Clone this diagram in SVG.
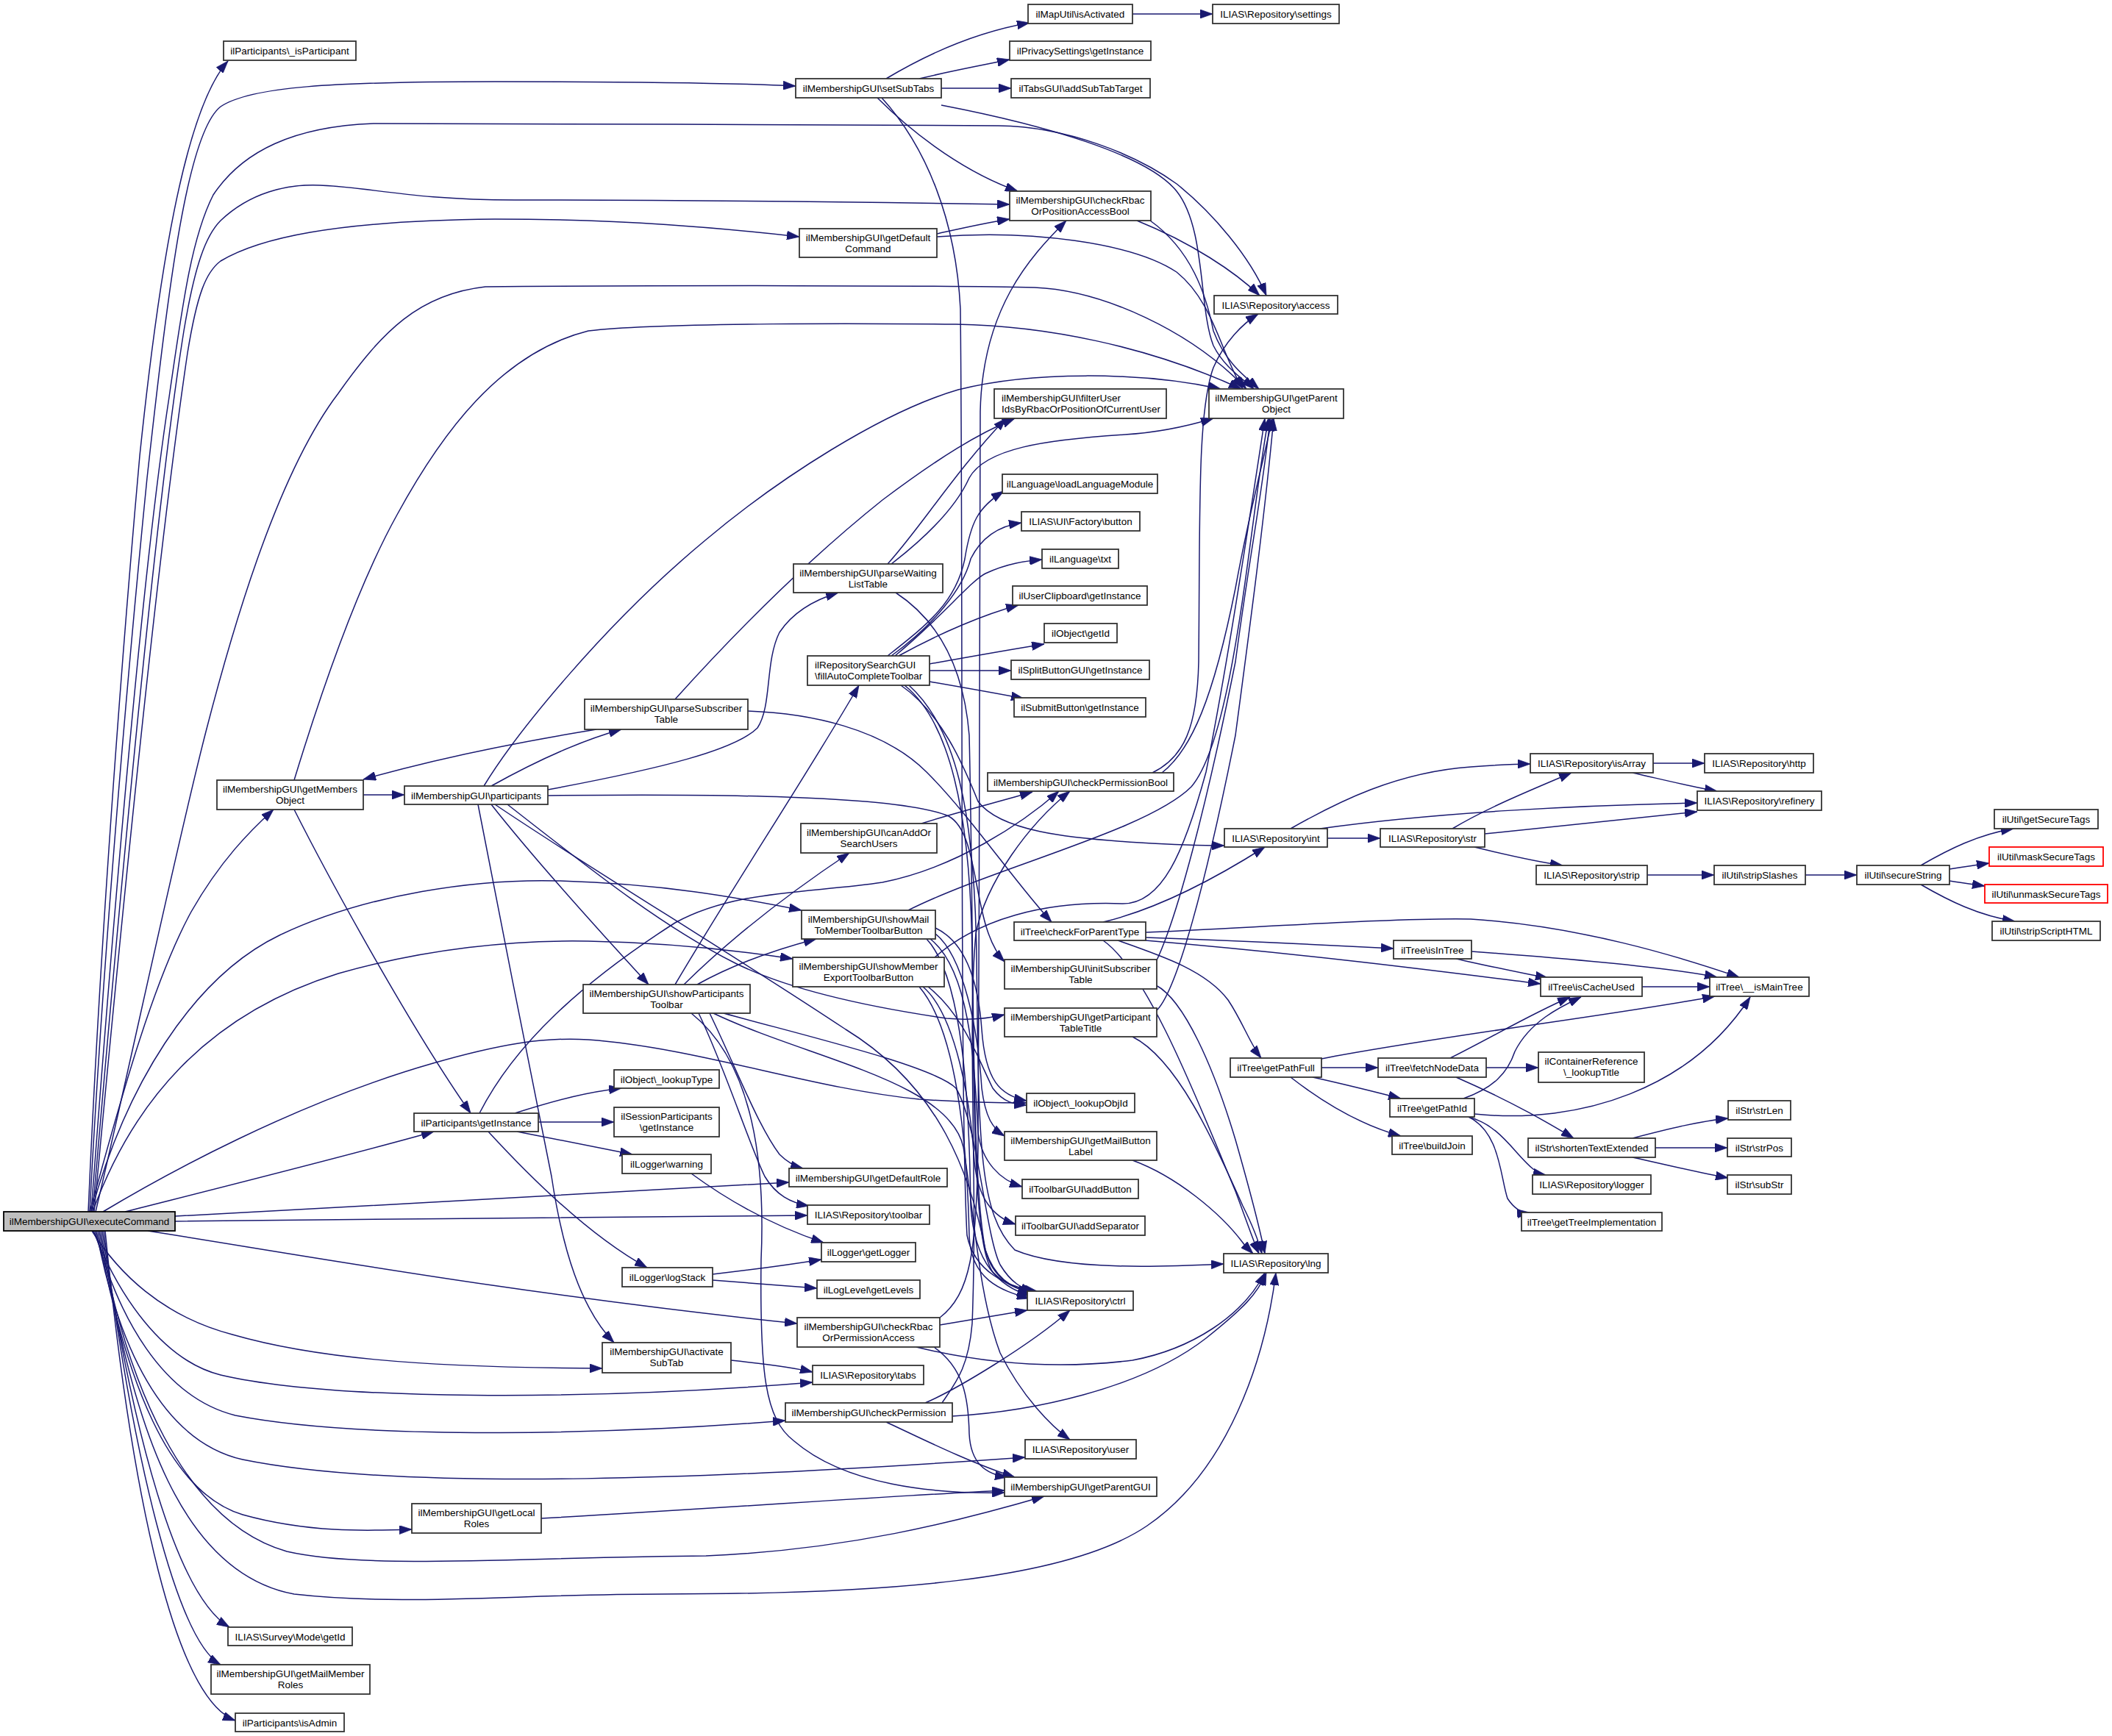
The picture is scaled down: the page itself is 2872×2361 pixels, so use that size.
<svg xmlns="http://www.w3.org/2000/svg" width="2872" height="2361" viewBox="0 0 2872 2361">
<defs>
<marker id="arr" viewBox="0 0 10 10" refX="10" refY="5" markerWidth="17" markerHeight="12" markerUnits="userSpaceOnUse" orient="auto" preserveAspectRatio="none"><path d="M0,0 L10,5 L0,10 z" fill="#191970" stroke="#191970" stroke-width="0.5"/></marker>
</defs>
<style>
.e{fill:none;stroke:#191970;stroke-width:1.5;marker-end:url(#arr)}
.n rect{fill:#ffffff;stroke:#333333;stroke-width:1.8}
.n.r rect{stroke:#ff0000}
.n.s rect{fill:#bfbfbf;stroke:#000000}
.n text{font-family:"Liberation Sans",Arial,Helvetica,sans-serif;font-size:13.5px;fill:#000000;text-anchor:middle}
.n text.l{text-anchor:start}
</style>
<rect x="0" y="0" width="2872" height="2361" fill="#ffffff"/>
<g id="edges">
<path class="e" d="M120,1648 C135,1300 165,900 190,620 C215,380 250,150 310,83"/>
<path class="e" d="M122,1648 C140,1300 175,900 200,650 C230,380 255,180 300,145 C340,118 450,111 673,111 C850,111 980,112 1082,117"/>
<path class="e" d="M124,1648 C150,1300 190,800 230,540 C250,400 262,320 290,265 C330,205 400,172 508,168 C700,168 1200,170 1358,171 C1450,172 1545,210 1600,250 C1650,290 1700,350 1722,402"/>
<path class="e" d="M126,1648 C160,1250 210,700 250,450 C265,360 280,320 300,300 C340,262 390,250 435,252 C500,254 560,272 700,272 C1000,272 1250,276 1373,278"/>
<path class="e" d="M128,1648 C165,1250 215,750 255,480 C268,400 280,370 300,355 C350,325 450,300 673,298 C850,298 980,310 1087,322"/>
<path class="e" d="M130,1648 C170,1480 240,1150 280,995 C320,840 380,640 460,535 C520,450 570,400 660,390 C900,388 1300,388 1407,391 C1500,395 1620,450 1695,529"/>
<path class="e" d="M122,1648 C150,1550 200,1350 260,1240 C300,1170 340,1130 372,1101"/>
<path class="e" d="M124,1648 C170,1480 260,1330 380,1272 C500,1215 650,1195 760,1198 C900,1202 1000,1220 1090,1238"/>
<path class="e" d="M126,1648 C180,1500 280,1380 460,1324 C580,1290 700,1278 800,1280 C900,1282 1000,1292 1078,1304"/>
<path class="e" d="M140,1648 C220,1600 400,1500 589,1446 C680,1420 740,1410 800,1414 C950,1425 1100,1480 1250,1495 C1320,1500 1360,1500 1396,1500"/>
<path class="e" d="M170,1648 C300,1615 480,1570 590,1539"/>
<path class="e" d="M238,1654 C500,1640 900,1618 1073,1608"/>
<path class="e" d="M238,1661 C500,1658 900,1655 1098,1653"/>
<path class="e" d="M201,1674 C400,1705 700,1760 1084,1800"/>
<path class="e" d="M125,1674 C160,1730 220,1790 316,1815 C420,1845 560,1860 819,1861"/>
<path class="e" d="M127,1674 C160,1760 220,1850 300,1870 C450,1905 800,1905 1105,1880"/>
<path class="e" d="M129,1674 C160,1790 220,1900 320,1925 C500,1960 850,1950 1068,1932"/>
<path class="e" d="M131,1674 C160,1830 220,1960 330,1985 C550,2030 1000,2010 1394,1982"/>
<path class="e" d="M133,1674 C170,1880 230,2030 330,2060 C420,2085 500,2082 560,2080"/>
<path class="e" d="M135,1674 C170,1880 250,2070 390,2110 C500,2135 700,2118 960,2116 C1150,2108 1300,2070 1420,2035"/>
<path class="e" d="M137,1674 C180,1950 250,2140 400,2168 C550,2185 700,2168 900,2168 C1200,2168 1450,2150 1560,2075 C1670,2000 1720,1850 1735,1731"/>
<path class="e" d="M139,1674 C180,1950 240,2170 312,2213"/>
<path class="e" d="M141,1674 C180,1980 240,2230 300,2264"/>
<path class="e" d="M143,1674 C180,2050 240,2310 320,2340"/>
<path class="e" d="M1205,107 C1250,80 1320,45 1400,31"/>
<path class="e" d="M1250,107 C1300,95 1350,86 1373,81"/>
<path class="e" d="M1280,120 L1375,120"/>
<path class="e" d="M1193,133 C1230,170 1300,230 1384,260"/>
<path class="e" d="M1199,133 C1260,200 1300,300 1306,420 C1310,800 1305,1500 1315,1680 C1325,1730 1370,1750 1410,1756"/>
<path class="e" d="M1280,143 C1420,170 1560,210 1600,260 C1640,310 1630,420 1650,470 C1665,500 1690,515 1705,529"/>
<path class="e" d="M1540,19 L1649,19"/>
<path class="e" d="M1274,318 C1310,310 1340,303 1373,298"/>
<path class="e" d="M1274,322 C1400,312 1540,330 1600,370 C1650,410 1660,480 1690,529"/>
<path class="e" d="M1546,300 C1620,330 1680,370 1713,402"/>
<path class="e" d="M1564,300 C1620,340 1640,400 1650,450 C1665,490 1690,510 1712,529"/>
<path class="e" d="M400,1061 C440,930 490,790 540,700 C600,590 680,480 800,450 C900,438 1200,440 1300,441 C1420,443 1560,470 1688,529"/>
<path class="e" d="M494,1081 L550,1081"/>
<path class="e" d="M400,1101 C450,1200 560,1400 640,1514"/>
<path class="e" d="M658,1069 C700,1000 820,850 960,734 C1060,650 1200,560 1303,530 C1400,505 1550,505 1660,529"/>
<path class="e" d="M668,1069 C720,1040 780,1010 845,992"/>
<path class="e" d="M745,1074 C900,1045 1000,1020 1030,990 C1050,960 1040,900 1060,860 C1080,830 1110,815 1140,806"/>
<path class="e" d="M668,1094 C720,1160 800,1250 882,1339"/>
<path class="e" d="M650,1094 C680,1250 720,1450 750,1600 C765,1700 790,1780 835,1826"/>
<path class="e" d="M745,1082 C950,1080 1220,1080 1290,1110 C1335,1135 1320,1260 1366,1308"/>
<path class="e" d="M690,1094 C800,1180 900,1260 1000,1310 C1060,1340 1150,1365 1287,1385 C1320,1388 1345,1385 1366,1380"/>
<path class="e" d="M673,1094 C800,1180 1000,1300 1150,1400 C1280,1480 1320,1600 1340,1700 C1350,1740 1380,1755 1410,1758"/>
<path class="e" d="M811,992 C700,1010 600,1030 494,1060"/>
<path class="e" d="M918,951 C1000,860 1100,760 1200,680 C1280,620 1330,590 1380,569"/>
<path class="e" d="M1017,967 C1100,970 1200,990 1260,1050 C1320,1110 1380,1200 1430,1254"/>
<path class="e" d="M1207,767 C1250,720 1300,640 1368,569"/>
<path class="e" d="M1212,767 C1260,730 1300,690 1318,650 C1340,610 1420,598 1530,591 C1580,588 1620,578 1650,569"/>
<path class="e" d="M1218,806 C1270,840 1310,900 1318,1000 C1325,1300 1320,1600 1340,1700 C1355,1745 1385,1755 1405,1757"/>
<path class="e" d="M1207,892 C1260,850 1300,820 1312,760 C1320,710 1330,690 1365,668"/>
<path class="e" d="M1212,892 C1270,850 1310,800 1320,760 C1335,730 1360,715 1389,711"/>
<path class="e" d="M1217,892 C1280,840 1320,790 1340,780 C1370,766 1395,763 1417,761"/>
<path class="e" d="M1222,892 C1280,860 1340,835 1385,823"/>
<path class="e" d="M1264,903 C1320,893 1370,884 1420,876"/>
<path class="e" d="M1264,912 L1375,912"/>
<path class="e" d="M1264,927 C1310,935 1350,942 1392,950"/>
<path class="e" d="M1225,932 C1280,970 1310,1040 1330,1090 C1360,1130 1450,1140 1550,1146 C1600,1149 1640,1150 1665,1150"/>
<path class="e" d="M1230,932 C1290,980 1320,1100 1322,1300 C1324,1600 1330,1700 1350,1730 C1370,1750 1390,1755 1402,1757"/>
<path class="e" d="M1236,932 C1300,990 1325,1100 1328,1300 C1331,1550 1330,1650 1380,1700 C1450,1730 1600,1722 1664,1719"/>
<path class="e" d="M918,1339 C1000,1200 1100,1050 1168,932"/>
<path class="e" d="M930,1339 C1000,1270 1080,1210 1155,1160"/>
<path class="e" d="M948,1339 C1000,1310 1060,1290 1110,1277"/>
<path class="e" d="M965,1378 C1000,1450 1030,1530 1060,1570 C1070,1580 1080,1586 1092,1589"/>
<path class="e" d="M950,1378 C985,1450 1020,1560 1040,1600 C1055,1625 1075,1636 1100,1640"/>
<path class="e" d="M940,1378 C1030,1450 1040,1600 1035,1713 C1033,1866 1040,1930 1080,1960 C1150,2020 1270,2032 1366,2030"/>
<path class="e" d="M984,1378 C1100,1410 1270,1450 1300,1480 C1330,1530 1340,1680 1360,1720 C1375,1745 1390,1752 1405,1757"/>
<path class="e" d="M970,1378 C1100,1440 1290,1470 1310,1560 C1325,1650 1330,1760 1360,1840 C1390,1900 1430,1940 1455,1958"/>
<path class="e" d="M1235,1238 C1350,1180 1560,1130 1620,1070 C1680,1000 1700,700 1725,569"/>
<path class="e" d="M1272,1262 C1310,1280 1330,1330 1335,1400 C1340,1470 1360,1490 1396,1497"/>
<path class="e" d="M1272,1270 C1310,1300 1330,1400 1335,1480 C1340,1520 1350,1535 1366,1545"/>
<path class="e" d="M1265,1277 C1320,1320 1325,1450 1330,1540 C1335,1580 1360,1605 1390,1614"/>
<path class="e" d="M1260,1277 C1310,1330 1318,1500 1320,1640 C1325,1720 1360,1750 1400,1762"/>
<path class="e" d="M1271,1302 C1330,1250 1420,1225 1526,1229 C1580,1230 1610,1160 1640,1050 C1670,900 1700,700 1720,569"/>
<path class="e" d="M1262,1342 C1310,1380 1330,1440 1350,1480 C1365,1500 1380,1502 1396,1503"/>
<path class="e" d="M1255,1342 C1300,1380 1320,1500 1325,1580 C1330,1630 1350,1655 1381,1665"/>
<path class="e" d="M1250,1342 C1300,1400 1315,1550 1318,1680 C1320,1740 1360,1755 1400,1766"/>
<path class="e" d="M1567,1051 C1610,1030 1628,990 1630,900 C1632,700 1628,560 1650,500 C1665,465 1690,440 1711,427"/>
<path class="e" d="M1580,1051 C1620,1020 1650,950 1680,800 C1700,690 1720,620 1730,569"/>
<path class="e" d="M1253,1120 C1300,1105 1360,1090 1404,1077"/>
<path class="e" d="M1281,1908 C1300,1880 1317,1860 1322,1800 C1330,1600 1315,1400 1327,1270 C1340,1200 1400,1120 1455,1076"/>
<path class="e" d="M1258,1908 C1300,1890 1400,1830 1455,1782"/>
<path class="e" d="M1295,1926 C1400,1920 1550,1890 1640,1820 C1690,1780 1710,1760 1722,1731"/>
<path class="e" d="M1205,1934 C1250,1955 1320,1990 1380,2009"/>
<path class="e" d="M1278,1802 C1320,1795 1360,1788 1397,1782"/>
<path class="e" d="M1278,1792 C1320,1760 1328,1700 1330,1560 C1333,1200 1330,700 1333,560 C1336,420 1400,350 1450,300"/>
<path class="e" d="M1246,1832 C1320,1850 1420,1865 1540,1850 C1620,1835 1690,1790 1720,1731"/>
<path class="e" d="M1270,1832 C1310,1860 1317,1900 1318,1950 C1320,1990 1340,2005 1370,2009"/>
<path class="e" d="M994,1850 C1040,1855 1080,1860 1105,1866"/>
<path class="e" d="M700,1514 C760,1495 800,1485 845,1480"/>
<path class="e" d="M732,1526 L835,1526"/>
<path class="e" d="M703,1539 C760,1550 820,1562 860,1570"/>
<path class="e" d="M664,1539 C720,1600 800,1680 880,1724"/>
<path class="e" d="M652,1514 C700,1420 790,1337 918,1255 C1000,1210 1100,1215 1200,1200 C1300,1180 1390,1120 1440,1076"/>
<path class="e" d="M940,1596 C1000,1640 1060,1670 1120,1690"/>
<path class="e" d="M969,1733 C1030,1726 1080,1719 1117,1713"/>
<path class="e" d="M969,1741 C1030,1746 1080,1750 1111,1752"/>
<path class="e" d="M736,2065 C1000,2050 1200,2035 1366,2027"/>
<path class="e" d="M1572,1308 C1600,1250 1640,1100 1680,900 C1700,750 1720,650 1727,569"/>
<path class="e" d="M1572,1340 C1610,1360 1650,1450 1680,1550 C1700,1620 1715,1680 1720,1705"/>
<path class="e" d="M1572,1375 C1600,1350 1640,1200 1680,1000 C1700,850 1720,700 1732,569"/>
<path class="e" d="M1540,1410 C1600,1440 1650,1550 1690,1640 C1705,1670 1712,1690 1716,1705"/>
<path class="e" d="M1540,1578 C1600,1600 1660,1650 1690,1690 C1695,1697 1700,1701 1704,1705"/>
<path class="e" d="M1500,1279 C1560,1320 1630,1500 1680,1620 C1695,1660 1705,1690 1712,1705"/>
<path class="e" d="M1500,1254 C1580,1235 1660,1190 1720,1152"/>
<path class="e" d="M1558,1275 C1700,1280 1800,1285 1895,1290"/>
<path class="e" d="M1558,1279 C1800,1300 1950,1320 2095,1338"/>
<path class="e" d="M1558,1268 C1700,1262 1900,1248 2000,1250 C2150,1260 2280,1300 2365,1329"/>
<path class="e" d="M1520,1279 C1580,1300 1640,1320 1670,1360 C1690,1390 1700,1420 1715,1439"/>
<path class="e" d="M1805,1140 L1877,1140"/>
<path class="e" d="M1755,1127 C1820,1090 1900,1050 2000,1043 C2040,1040 2060,1039 2081,1039"/>
<path class="e" d="M1795,1127 C1950,1105 2150,1095 2308,1092"/>
<path class="e" d="M1975,1127 C2020,1100 2080,1075 2137,1051"/>
<path class="e" d="M2019,1134 C2150,1120 2250,1110 2308,1104"/>
<path class="e" d="M2005,1152 C2050,1163 2090,1172 2125,1177"/>
<path class="e" d="M2248,1038 L2318,1038"/>
<path class="e" d="M2220,1051 C2260,1060 2300,1070 2335,1076"/>
<path class="e" d="M2240,1190 L2331,1190"/>
<path class="e" d="M2455,1190 L2525,1190"/>
<path class="e" d="M2612,1177 C2650,1155 2690,1135 2738,1127"/>
<path class="e" d="M2651,1182 C2670,1179 2690,1176 2705,1174"/>
<path class="e" d="M2651,1198 C2670,1201 2685,1203 2699,1205"/>
<path class="e" d="M2612,1203 C2650,1225 2690,1245 2740,1253"/>
<path class="e" d="M1980,1304 C2030,1315 2070,1324 2105,1330"/>
<path class="e" d="M2001,1294 C2150,1305 2280,1318 2335,1329"/>
<path class="e" d="M2233,1342 L2325,1342"/>
<path class="e" d="M1797,1440 C1950,1410 2200,1380 2332,1355"/>
<path class="e" d="M1797,1452 L1874,1452"/>
<path class="e" d="M1785,1465 C1830,1475 1870,1485 1905,1494"/>
<path class="e" d="M1755,1465 C1800,1500 1850,1530 1905,1545"/>
<path class="e" d="M1972,1439 C2030,1410 2080,1380 2135,1356"/>
<path class="e" d="M2021,1452 L2092,1452"/>
<path class="e" d="M1980,1465 C2060,1500 2110,1530 2140,1548"/>
<path class="e" d="M1990,1494 C2030,1480 2050,1460 2060,1430 C2080,1390 2120,1370 2150,1356"/>
<path class="e" d="M2005,1515 C2150,1530 2300,1480 2380,1356"/>
<path class="e" d="M1997,1519 C2040,1530 2060,1570 2085,1590 C2090,1594 2096,1597 2102,1598"/>
<path class="e" d="M1997,1519 C2040,1540 2040,1600 2050,1630 C2060,1645 2070,1650 2080,1649"/>
<path class="e" d="M2220,1548 C2270,1535 2310,1525 2350,1521"/>
<path class="e" d="M2251,1561 L2349,1561"/>
<path class="e" d="M2220,1574 C2270,1585 2310,1595 2350,1602"/>
</g>
<g id="n_exec" class="n s"><rect x="5" y="1648" width="233" height="26"/><text x="121.5" y="1666">ilMembershipGUI\executeCommand</text></g>
<g id="n_isParticipant" class="n"><rect x="304" y="56" width="180" height="26"/><text x="394" y="74">ilParticipants\_isParticipant</text></g>
<g id="n_setSubTabs" class="n"><rect x="1082" y="107" width="198" height="26"/><text x="1181" y="125">ilMembershipGUI\setSubTabs</text></g>
<g id="n_isActivated" class="n"><rect x="1398" y="6" width="142" height="26"/><text x="1469" y="24">ilMapUtil\isActivated</text></g>
<g id="n_settings" class="n"><rect x="1649" y="6" width="172" height="26"/><text x="1735" y="24">ILIAS\Repository\settings</text></g>
<g id="n_privacy" class="n"><rect x="1373" y="56" width="192" height="26"/><text x="1469" y="74">ilPrivacySettings\getInstance</text></g>
<g id="n_addSubTabTarget" class="n"><rect x="1375" y="107" width="189" height="26"/><text x="1469.5" y="125">ilTabsGUI\addSubTabTarget</text></g>
<g id="n_checkRbacBool" class="n"><rect x="1373" y="260" width="192" height="40"/><text x="1469" y="277">ilMembershipGUI\checkRbac</text><text x="1469" y="292">OrPositionAccessBool</text></g>
<g id="n_getDefaultCommand" class="n"><rect x="1087" y="311" width="187" height="39"/><text x="1180.5" y="328">ilMembershipGUI\getDefault</text><text x="1180.5" y="343">Command</text></g>
<g id="n_access" class="n"><rect x="1651" y="402" width="168" height="25"/><text x="1735" y="419.5">ILIAS\Repository\access</text></g>
<g id="n_getParentObject" class="n"><rect x="1644" y="529" width="183" height="40"/><text x="1735.5" y="546">ilMembershipGUI\getParent</text><text x="1735.5" y="561">Object</text></g>
<g id="n_filterUser" class="n"><rect x="1352" y="529" width="234" height="40"/><text class="l" x="1362" y="546">ilMembershipGUI\filterUser</text><text class="l" x="1362" y="561">IdsByRbacOrPositionOfCurrentUser</text></g>
<g id="n_loadLanguageModule" class="n"><rect x="1363" y="645" width="211" height="26"/><text x="1468.5" y="663">ilLanguage\loadLanguageModule</text></g>
<g id="n_button" class="n"><rect x="1389" y="696" width="161" height="26"/><text x="1469.5" y="714">ILIAS\UI\Factory\button</text></g>
<g id="n_txt" class="n"><rect x="1417" y="747" width="104" height="26"/><text x="1469" y="765">ilLanguage\txt</text></g>
<g id="n_parseWaiting" class="n"><rect x="1079" y="767" width="203" height="39"/><text x="1180.5" y="784">ilMembershipGUI\parseWaiting</text><text x="1180.5" y="799">ListTable</text></g>
<g id="n_clipboard" class="n"><rect x="1377" y="797" width="183" height="26"/><text x="1468.5" y="815">ilUserClipboard\getInstance</text></g>
<g id="n_getId" class="n"><rect x="1420" y="848" width="99" height="26"/><text x="1469.5" y="866">ilObject\getId</text></g>
<g id="n_splitButton" class="n"><rect x="1375" y="898" width="188" height="26"/><text x="1469" y="916">ilSplitButtonGUI\getInstance</text></g>
<g id="n_submitButton" class="n"><rect x="1379" y="949" width="179" height="26"/><text x="1468.5" y="967">ilSubmitButton\getInstance</text></g>
<g id="n_fillAutoComplete" class="n"><rect x="1098" y="892" width="166" height="40"/><text class="l" x="1108" y="909">ilRepositorySearchGUI</text><text class="l" x="1108" y="924">\fillAutoCompleteToolbar</text></g>
<g id="n_checkPermissionBool" class="n"><rect x="1343" y="1051" width="253" height="25"/><text x="1469.5" y="1068.5">ilMembershipGUI\checkPermissionBool</text></g>
<g id="n_canAdd" class="n"><rect x="1089" y="1120" width="185" height="40"/><text x="1181.5" y="1137">ilMembershipGUI\canAddOr</text><text x="1181.5" y="1152">SearchUsers</text></g>
<g id="n_showMail" class="n"><rect x="1090" y="1238" width="182" height="39"/><text x="1181" y="1255">ilMembershipGUI\showMail</text><text x="1181" y="1270">ToMemberToolbarButton</text></g>
<g id="n_checkForParentType" class="n"><rect x="1379" y="1254" width="179" height="25"/><text x="1468.5" y="1271.5">ilTree\checkForParentType</text></g>
<g id="n_showExport" class="n"><rect x="1078" y="1302" width="206" height="40"/><text x="1181" y="1319">ilMembershipGUI\showMember</text><text x="1181" y="1334">ExportToolbarButton</text></g>
<g id="n_initSubscriber" class="n"><rect x="1366" y="1305" width="207" height="40"/><text x="1469.5" y="1322">ilMembershipGUI\initSubscriber</text><text x="1469.5" y="1337">Table</text></g>
<g id="n_participantTableTitle" class="n"><rect x="1366" y="1371" width="207" height="39"/><text x="1469.5" y="1388">ilMembershipGUI\getParticipant</text><text x="1469.5" y="1403">TableTitle</text></g>
<g id="n_lookupObjId" class="n"><rect x="1396" y="1487" width="147" height="26"/><text x="1469.5" y="1505">ilObject\_lookupObjId</text></g>
<g id="n_mailButtonLabel" class="n"><rect x="1366" y="1539" width="207" height="39"/><text x="1469.5" y="1556">ilMembershipGUI\getMailButton</text><text x="1469.5" y="1571">Label</text></g>
<g id="n_int" class="n"><rect x="1665" y="1127" width="140" height="25"/><text x="1735" y="1144.5">ILIAS\Repository\int</text></g>
<g id="n_getPathFull" class="n"><rect x="1673" y="1439" width="124" height="26"/><text x="1735" y="1457">ilTree\getPathFull</text></g>
<g id="n_getDefaultRole" class="n"><rect x="1073" y="1589" width="215" height="25"/><text x="1180.5" y="1606.5">ilMembershipGUI\getDefaultRole</text></g>
<g id="n_toolbar" class="n"><rect x="1098" y="1639" width="166" height="26"/><text x="1181" y="1657">ILIAS\Repository\toolbar</text></g>
<g id="n_getLogger" class="n"><rect x="1117" y="1690" width="128" height="26"/><text x="1181" y="1708">ilLogger\getLogger</text></g>
<g id="n_getLevels" class="n"><rect x="1111" y="1741" width="140" height="25"/><text x="1181" y="1758.5">ilLogLevel\getLevels</text></g>
<g id="n_checkRbacPermAccess" class="n"><rect x="1084" y="1792" width="194" height="40"/><text x="1181" y="1809">ilMembershipGUI\checkRbac</text><text x="1181" y="1824">OrPermissionAccess</text></g>
<g id="n_tabs" class="n"><rect x="1105" y="1857" width="151" height="26"/><text x="1180.5" y="1875">ILIAS\Repository\tabs</text></g>
<g id="n_checkPermission" class="n"><rect x="1068" y="1908" width="227" height="26"/><text x="1181.5" y="1926">ilMembershipGUI\checkPermission</text></g>
<g id="n_addButton" class="n"><rect x="1390" y="1604" width="158" height="26"/><text x="1469" y="1622">ilToolbarGUI\addButton</text></g>
<g id="n_addSeparator" class="n"><rect x="1381" y="1654" width="176" height="26"/><text x="1469" y="1672">ilToolbarGUI\addSeparator</text></g>
<g id="n_lng" class="n"><rect x="1664" y="1705" width="142" height="26"/><text x="1735" y="1723">ILIAS\Repository\lng</text></g>
<g id="n_ctrl" class="n"><rect x="1397" y="1756" width="144" height="26"/><text x="1469" y="1774">ILIAS\Repository\ctrl</text></g>
<g id="n_user" class="n"><rect x="1394" y="1958" width="151" height="26"/><text x="1469.5" y="1976">ILIAS\Repository\user</text></g>
<g id="n_getParentGUI" class="n"><rect x="1366" y="2009" width="207" height="26"/><text x="1469.5" y="2027">ilMembershipGUI\getParentGUI</text></g>
<g id="n_logStack" class="n"><rect x="846" y="1724" width="123" height="26"/><text x="907.5" y="1742">ilLogger\logStack</text></g>
<g id="n_warning" class="n"><rect x="846" y="1570" width="121" height="26"/><text x="906.5" y="1588">ilLogger\warning</text></g>
<g id="n_activateSubTab" class="n"><rect x="819" y="1826" width="175" height="41"/><text x="906.5" y="1843">ilMembershipGUI\activate</text><text x="906.5" y="1858">SubTab</text></g>
<g id="n_getMembersObject" class="n"><rect x="295" y="1061" width="199" height="40"/><text x="394.5" y="1078">ilMembershipGUI\getMembers</text><text x="394.5" y="1093">Object</text></g>
<g id="n_participants" class="n"><rect x="550" y="1069" width="195" height="25"/><text x="647.5" y="1086.5">ilMembershipGUI\participants</text></g>
<g id="n_parseSubscriber" class="n"><rect x="795" y="951" width="222" height="41"/><text x="906" y="968">ilMembershipGUI\parseSubscriber</text><text x="906" y="983">Table</text></g>
<g id="n_showParticipantsToolbar" class="n"><rect x="793" y="1339" width="227" height="39"/><text x="906.5" y="1356">ilMembershipGUI\showParticipants</text><text x="906.5" y="1371">Toolbar</text></g>
<g id="n_lookupType" class="n"><rect x="835" y="1455" width="143" height="25"/><text x="906.5" y="1472.5">ilObject\_lookupType</text></g>
<g id="n_sessionParticipants" class="n"><rect x="835" y="1506" width="143" height="40"/><text x="906.5" y="1523">ilSessionParticipants</text><text x="906.5" y="1538">\getInstance</text></g>
<g id="n_participantsGetInstance" class="n"><rect x="563" y="1514" width="169" height="25"/><text x="647.5" y="1531.5">ilParticipants\getInstance</text></g>
<g id="n_getLocalRoles" class="n"><rect x="560" y="2045" width="176" height="40"/><text x="648" y="2062">ilMembershipGUI\getLocal</text><text x="648" y="2077">Roles</text></g>
<g id="n_surveyGetId" class="n"><rect x="310" y="2213" width="169" height="25"/><text x="394.5" y="2230.5">ILIAS\Survey\Mode\getId</text></g>
<g id="n_mailMemberRoles" class="n"><rect x="287" y="2264" width="216" height="40"/><text x="395" y="2281">ilMembershipGUI\getMailMember</text><text x="395" y="2296">Roles</text></g>
<g id="n_isAdmin" class="n"><rect x="320" y="2330" width="148" height="25"/><text x="394" y="2347.5">ilParticipants\isAdmin</text></g>
<g id="n_isArray" class="n"><rect x="2081" y="1025" width="167" height="26"/><text x="2164.5" y="1043">ILIAS\Repository\isArray</text></g>
<g id="n_http" class="n"><rect x="2318" y="1025" width="148" height="26"/><text x="2392" y="1043">ILIAS\Repository\http</text></g>
<g id="n_refinery" class="n"><rect x="2308" y="1076" width="169" height="26"/><text x="2392.5" y="1094">ILIAS\Repository\refinery</text></g>
<g id="n_str" class="n"><rect x="1877" y="1127" width="142" height="25"/><text x="1948" y="1144.5">ILIAS\Repository\str</text></g>
<g id="n_strip" class="n"><rect x="2089" y="1177" width="151" height="26"/><text x="2164.5" y="1195">ILIAS\Repository\strip</text></g>
<g id="n_stripSlashes" class="n"><rect x="2331" y="1177" width="124" height="26"/><text x="2393" y="1195">ilUtil\stripSlashes</text></g>
<g id="n_secureString" class="n"><rect x="2525" y="1177" width="126" height="26"/><text x="2588" y="1195">ilUtil\secureString</text></g>
<g id="n_getSecureTags" class="n"><rect x="2712" y="1101" width="141" height="26"/><text x="2782.5" y="1119">ilUtil\getSecureTags</text></g>
<g id="n_maskSecureTags" class="n r"><rect x="2705" y="1152" width="155" height="26"/><text x="2782.5" y="1170">ilUtil\maskSecureTags</text></g>
<g id="n_unmaskSecureTags" class="n r"><rect x="2699" y="1203" width="167" height="25"/><text x="2782.5" y="1220.5">ilUtil\unmaskSecureTags</text></g>
<g id="n_stripScriptHTML" class="n"><rect x="2709" y="1253" width="147" height="26"/><text x="2782.5" y="1271">ilUtil\stripScriptHTML</text></g>
<g id="n_isInTree" class="n"><rect x="1895" y="1279" width="106" height="25"/><text x="1948" y="1296.5">ilTree\isInTree</text></g>
<g id="n_isCacheUsed" class="n"><rect x="2095" y="1329" width="138" height="26"/><text x="2164" y="1347">ilTree\isCacheUsed</text></g>
<g id="n_isMainTree" class="n"><rect x="2325" y="1329" width="135" height="26"/><text x="2392.5" y="1347">ilTree\__isMainTree</text></g>
<g id="n_fetchNodeData" class="n"><rect x="1874" y="1439" width="147" height="26"/><text x="1947.5" y="1457">ilTree\fetchNodeData</text></g>
<g id="n_containerReference" class="n"><rect x="2092" y="1431" width="144" height="41"/><text x="2164" y="1448">ilContainerReference</text><text x="2164" y="1463">\_lookupTitle</text></g>
<g id="n_getPathId" class="n"><rect x="1890" y="1494" width="115" height="25"/><text x="1947.5" y="1511.5">ilTree\getPathId</text></g>
<g id="n_buildJoin" class="n"><rect x="1893" y="1545" width="109" height="25"/><text x="1947.5" y="1562.5">ilTree\buildJoin</text></g>
<g id="n_shortenTextExtended" class="n"><rect x="2078" y="1548" width="173" height="26"/><text x="2164.5" y="1566">ilStr\shortenTextExtended</text></g>
<g id="n_strLen" class="n"><rect x="2350" y="1497" width="85" height="26"/><text x="2392.5" y="1515">ilStr\strLen</text></g>
<g id="n_strPos" class="n"><rect x="2349" y="1548" width="87" height="25"/><text x="2392.5" y="1565.5">ilStr\strPos</text></g>
<g id="n_subStr" class="n"><rect x="2349" y="1598" width="87" height="26"/><text x="2392.5" y="1616">ilStr\subStr</text></g>
<g id="n_logger" class="n"><rect x="2084" y="1598" width="161" height="26"/><text x="2164.5" y="1616">ILIAS\Repository\logger</text></g>
<g id="n_getTreeImplementation" class="n"><rect x="2069" y="1649" width="191" height="25"/><text x="2164.5" y="1666.5">ilTree\getTreeImplementation</text></g>
</svg>
